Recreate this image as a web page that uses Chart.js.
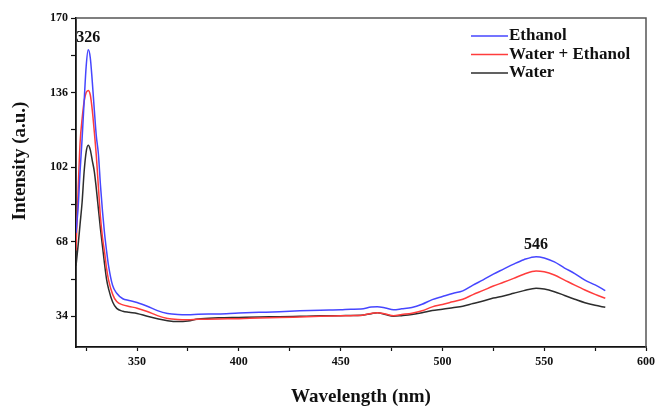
<!DOCTYPE html>
<html>
<head>
<meta charset="utf-8">
<script src="https://cdn.jsdelivr.net/npm/chart.js@4.4.0/dist/chart.umd.min.js"></script>
<style>
  html, body { margin: 0; padding: 0; background: #fff; }
  #wrap { width: 659px; height: 408px; }
</style>
</head>
<body>
<div id="wrap"><canvas id="myChart"></canvas></div>
<script>
const wavelengths = [320, 321, 322, 323, 324, 325, 326, 327, 328, 329, 330, 331, 332, 333, 334, 335, 336, 338, 340, 343, 346, 350, 355, 360, 365, 370, 375, 380, 390, 400, 410, 420, 430, 440, 450, 455, 460, 465, 468, 472, 476, 480, 485, 490, 495, 500, 505, 510, 515, 520, 525, 530, 535, 540, 546, 550, 555, 560, 565, 570, 575, 580];
const ethanol = [72, 83, 100, 115, 132, 148, 155.5, 152, 141, 128, 116, 108, 94, 82, 72, 64, 57, 48, 44.5, 42, 41.2, 40.3, 38.6, 36.6, 35.3, 34.8, 34.7, 34.9, 35.1, 35.5, 35.8, 36.1, 36.5, 36.8, 37.0, 37.2, 37.3, 38.2, 38.4, 37.8, 37.0, 37.4, 38.0, 39.5, 41.6, 43.0, 44.4, 45.6, 48.2, 50.6, 53.2, 55.5, 57.8, 59.8, 61.2, 60.6, 58.8, 56.0, 53.5, 50.5, 48.3, 45.7];
const waterEthanol = [64, 90, 113, 124, 132, 136, 137, 135, 128, 118, 107, 93, 79.4, 70, 63.5, 56, 50.5, 44, 40.7, 39.2, 38.5, 37.7, 36.2, 34.3, 33.0, 32.5, 32.4, 32.6, 32.8, 32.9, 33.2, 33.4, 33.7, 34.0, 34.2, 34.3, 34.4, 35.3, 35.6, 35.0, 34.3, 34.8, 35.4, 36.5, 38.3, 39.4, 40.6, 41.8, 43.9, 45.8, 47.8, 49.5, 51.3, 53.2, 54.7, 54.3, 52.8, 50.5, 48.2, 46.0, 44.0, 42.2];
const water = [57, 66, 76, 86, 100, 109, 112, 110, 105, 100, 92, 83, 74, 66, 58, 51, 46.5, 40.5, 37.6, 36.3, 35.8, 35.3, 34.0, 32.9, 32.0, 31.6, 31.9, 32.8, 33.3, 33.5, 33.7, 33.8, 34.0, 34.2, 34.3, 34.4, 34.5, 35.2, 35.6, 34.8, 34.0, 34.3, 34.8, 35.6, 36.6, 37.2, 37.9, 38.6, 39.8, 41.0, 42.3, 43.3, 44.5, 45.7, 46.8, 46.4, 45.2, 43.5, 41.8, 40.2, 39.0, 38.1];
const peakLabels = [326, 546];
const xTicks = [325, 350, 375, 400, 425, 450, 475, 500, 525, 550, 575, 600];
const yTicks = [34, 51, 68, 85, 102, 119, 136, 153, 170];

const serif = '"Liberation Serif", "DejaVu Serif", serif';

function toPoints(values){
    return wavelengths.map((w, i) => ({x: w, y: values[i]}));
}

// frame, y title, peak numbers and legend
const extras = {
    id: 'extras',
    afterDraw(chart){
        const c = chart.ctx;
        const a = chart.chartArea;
        const xs = chart.scales.x;
        const ys = chart.scales.y;
        c.save();
        c.strokeStyle = '#555';
        c.lineWidth = 1.5;
        c.beginPath();
        c.moveTo(a.left, a.top);
        c.lineTo(a.right, a.top);
        c.lineTo(a.right, a.bottom);
        c.stroke();

        c.fillStyle = '#111';
        c.save();
        c.translate(20, 161);
        c.rotate(-Math.PI / 2);
        c.font = 'bold 19px ' + serif;
        c.textAlign = 'center';
        c.textBaseline = 'middle';
        c.fillText('Intensity (a.u.)', 0, 0);
        c.restore();

        c.font = 'bold 16px ' + serif;
        c.textAlign = 'center';
        c.textBaseline = 'bottom';
        peakLabels.forEach(p => {
            const i = wavelengths.indexOf(p);
            c.fillText(String(p), xs.getPixelForValue(p), ys.getPixelForValue(ethanol[i]) - 4);
        });

        c.font = 'bold 17px ' + serif;
        c.textAlign = 'left';
        c.textBaseline = 'middle';
        chart.data.datasets.forEach((ds, k) => {
            const y = a.top + 18 + k * 18.5;
            c.strokeStyle = ds.borderColor;
            c.lineWidth = 1.5;
            c.beginPath();
            c.moveTo(a.right - 175, y);
            c.lineTo(a.right - 138, y);
            c.stroke();
            c.fillStyle = '#111';
            c.fillText(ds.label, a.right - 137, y);
        });
        c.restore();
    }
};

const ctx = document.getElementById('myChart').getContext('2d');
const myChart = new Chart(ctx, {
    type: 'line',
    data: {
        datasets: [
            {label: 'Ethanol', data: toPoints(ethanol), borderColor: 'rgb(70, 70, 255)'},
            {label: 'Water + Ethanol', data: toPoints(waterEthanol), borderColor: 'rgb(255, 60, 60)'},
            {label: 'Water', data: toPoints(water), borderColor: 'rgb(45, 45, 45)'}
        ]
    },
    options: {
        responsive: true,
        maintainAspectRatio: false,
        animation: false,
        layout: {padding: {top: 18, right: 11, left: 0, bottom: 0}},
        elements: {
            point: {radius: 0},
            line: {borderWidth: 1.5, tension: 0.4, cubicInterpolationMode: 'monotone'}
        },
        plugins: {legend: {display: false}, tooltip: {enabled: false}},
        scales: {
            x: {
                type: 'linear',
                min: 320,
                max: 600,
                afterBuildTicks: s => { s.ticks = xTicks.map(v => ({value: v})); },
                afterFit: s => { s.height = 61; },
                grid: {drawOnChartArea: false, tickLength: 4, tickColor: '#111', tickWidth: 1.2},
                border: {color: '#111', width: 1.8},
                ticks: {
                    color: '#111',
                    padding: 4,
                    maxRotation: 0,
                    autoSkip: false,
                    font: {family: serif, size: 12, weight: 'bold'},
                    callback: v => (v % 50 === 0 ? String(v) : '')
                },
                title: {
                    display: true,
                    text: 'Wavelength (nm)',
                    color: '#111',
                    padding: {top: 0, bottom: 0},
                    font: {family: serif, size: 19, weight: 'bold'}
                }
            },
            y: {
                min: 20,
                max: 170,
                afterBuildTicks: s => { s.ticks = yTicks.map(v => ({value: v})); },
                afterFit: s => { s.width = 76; },
                grid: {drawOnChartArea: false, tickLength: 5, tickColor: '#111', tickWidth: 1.2},
                border: {color: '#111', width: 1.8},
                ticks: {
                    color: '#111',
                    padding: 3,
                    autoSkip: false,
                    font: {family: serif, size: 12, weight: 'bold'},
                    callback: v => (v % 34 === 0 ? String(v) : '')
                },
                title: {display: false}
            }
        }
    },
    plugins: [extras]
});
</script>
</body>
</html>
